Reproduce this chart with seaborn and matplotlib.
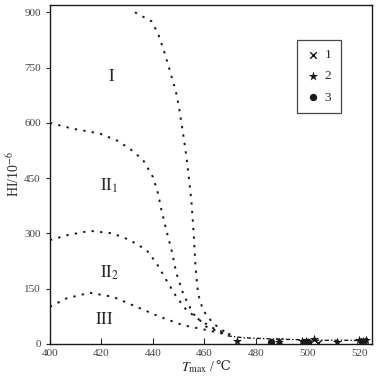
import numpy as np
import pandas as pd
import seaborn as sns
import matplotlib.pyplot as plt

# curvas limite
curva_I_t = [433, 439.4, 442, 444.2, 446.5, 448.8, 450.1, 451.7, 453, 453.9, 454.9,
             455.8, 456.5, 457.5, 459.4, 463.3, 468.5]
curva_I_hi = [900, 876, 842, 797, 743, 688, 643, 571, 508, 453, 390,
              300, 210, 137, 92, 56, 30]

curva_II1_t = [400, 409, 419.4, 425.8, 431, 436.2, 440, 442, 443.3, 445.2, 447.2,
               449.1, 451.7, 455.5, 460.7, 467.2]
curva_II1_hi = [600, 584, 571, 553, 530, 499, 453, 408, 363, 309, 255,
                192, 137, 83, 47, 29]

curva_II2_t = [400, 406.5, 415.5, 424.5, 431, 437.5, 441.4, 445.2, 449.1, 453,
               458.1, 464.6, 471]
curva_II2_hi = [282, 295, 307, 300, 282, 255, 219, 173, 128, 92, 65, 38, 24]

curva_III_t = [400, 406.5, 415.5, 424.5, 433.6, 442.6, 451.7, 460.7, 469.8]
curva_III_hi = [101, 124, 139, 128, 101, 74, 51, 38, 24]

cauda_t = [469, 475, 485, 495, 505, 515, 522]
cauda_hi = [22, 17, 14, 12, 10, 10, 9]

# amostras
amostra1_t = [489, 504, 521, 522]
amostra1_hi = [7, 3, 9, 8]
amostra2_t = [472.5, 489, 498, 499.5, 502.5, 511.5, 520, 521.5, 522.5]
amostra2_hi = [9, 6, 8, 7, 14, 6, 10, 9, 10]
amostra3_t = [486, 498.5, 500]
amostra3_hi = [6, 6, 5]

sns.set_theme(style='ticks')
plt.rcParams['font.family'] = ['Liberation Serif', 'DejaVu Serif']
plt.rcParams['mathtext.fontset'] = 'stix'

fig = plt.figure(figsize=(3.78, 3.82), dpi=100)
ax = fig.add_axes([0.132, 0.0995, 0.852, 0.8875])

pontilhado = (0, (1.2, 3.2))
for t, hi in [(curva_I_t, curva_I_hi), (curva_II1_t, curva_II1_hi),
              (curva_II2_t, curva_II2_hi), (curva_III_t, curva_III_hi)]:
    sns.lineplot(ax=ax, x=t, y=hi, color='k', lw=1.4, linestyle=pontilhado)
sns.lineplot(ax=ax, x=cauda_t, y=cauda_hi, color='k', lw=1.0, linestyle=(0, (3, 1.5, 1, 1.5)))

sns.scatterplot(ax=ax, x=amostra1_t, y=amostra1_hi, marker='x', color='k', s=22,
                linewidth=1.0, label='1', zorder=3)
sns.scatterplot(ax=ax, x=amostra2_t, y=amostra2_hi, marker='*', color='k', s=50,
                linewidth=0, label='2', zorder=3)
sns.scatterplot(ax=ax, x=amostra3_t, y=amostra3_hi, marker='o', color='k', s=28,
                linewidth=0, label='3', zorder=3)

ax.set_xlim(400, 525)
ax.set_ylim(0, 920)
ax.set_xticks(np.arange(400, 521, 20))
ax.set_yticks(np.arange(0, 901, 150))
ax.tick_params(axis='x', direction='in', length=4, labelsize=8, labelcolor='#444', width=0.8)
ax.tick_params(axis='y', direction='out', length=3, labelsize=8, labelcolor='#444', width=0.8)
for s in ax.spines.values():
    s.set_visible(True)
    s.set_linewidth(1.0)
    s.set_color('k')

# rótulo do eixo x em duas partes (o ℃ vem da DejaVu)
ax.text(0.515, -0.045, r'$T_{\rm max}$ /', transform=ax.transAxes, fontsize=10,
        ha='right', va='top')
ax.text(0.515, -0.047, '℃', transform=ax.transAxes, fontsize=9.5,
        family=['DejaVu Serif'], ha='left', va='top')
ax.set_ylabel(r'HI/10$^{-6}$', fontsize=10, labelpad=2)

# regiões
ax.text(424, 725, r'$\mathrm{I}$', fontsize=12, ha='center', va='center')
ax.text(423, 430, r'$\mathrm{II}_{\mathrm{1}}$', fontsize=12, ha='center', va='center')
ax.text(423, 193, r'$\mathrm{II}_{\mathrm{2}}$', fontsize=12, ha='center', va='center')
ax.text(421, 65, r'$\mathrm{III}$', fontsize=12, ha='center', va='center')

leg = ax.legend(loc='upper left', bbox_to_anchor=(0.767, 0.898), frameon=True,
                fancybox=False, edgecolor='k', fontsize=9.5, handletextpad=0.3,
                labelspacing=0.7, borderpad=0.7, handlelength=1.1,
                borderaxespad=0)
leg.get_frame().set_linewidth(0.9)

fig.savefig('out.png', dpi=100)
